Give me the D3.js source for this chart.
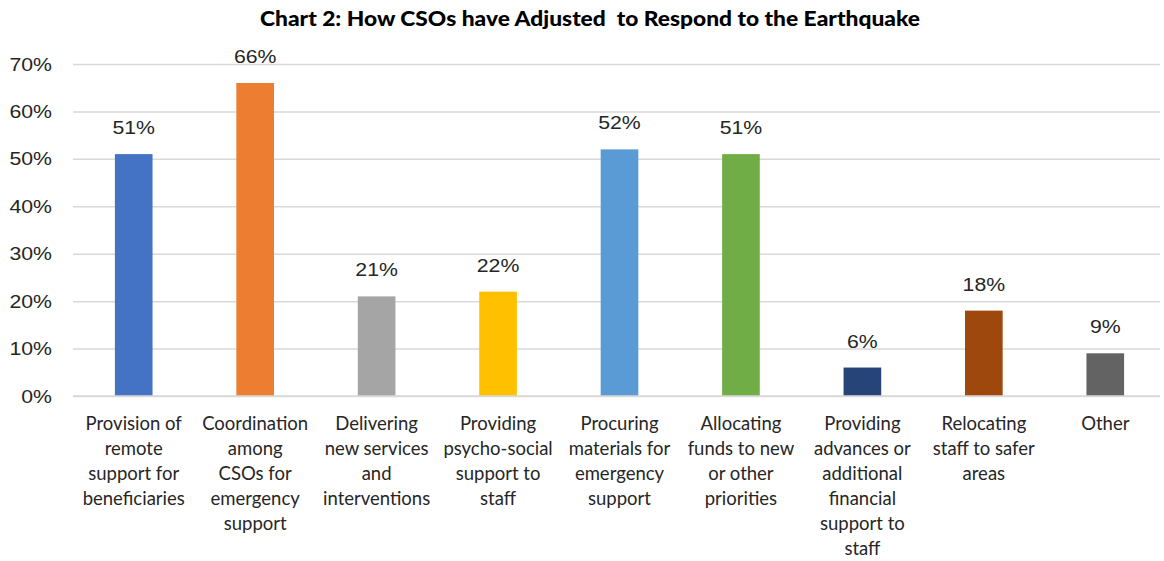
<!DOCTYPE html>
<html>
<head>
<meta charset="utf-8">
<script src="https://cdn.jsdelivr.net/npm/d3@7"></script>
<style>
  html, body { margin: 0; padding: 0; background: #fff; }
  svg { display: block; }
</style>
</head>
<body>
<svg id="chart" width="1164" height="561"></svg>
<script>
// Survey responses: share of CSOs reporting each adjustment
const categories = [
  "Provision of remote support for beneficiaries",
  "Coordination among CSOs for emergency support",
  "Delivering new services and interventions",
  "Providing psycho-social support to staff",
  "Procuring materials for emergency support",
  "Allocating funds to new or other priorities",
  "Providing advances or additional financial support to staff",
  "Relocating staff to safer areas",
  "Other"
];
// Wrapped label lines for the category axis
const categoryLines = [
  ["Provision of", "remote", "support for", "beneficiaries"],
  ["Coordination", "among", "CSOs for", "emergency", "support"],
  ["Delivering", "new services", "and", "interventions"],
  ["Providing", "psycho-social", "support to", "staff"],
  ["Procuring", "materials for", "emergency", "support"],
  ["Allocating", "funds to new", "or other", "priorities"],
  ["Providing", "advances or", "additional", "financial", "support to", "staff"],
  ["Relocating", "staff to safer", "areas"],
  ["Other"]
];
const values = [0.51, 0.66, 0.21, 0.22, 0.52, 0.51, 0.06, 0.18, 0.09];
const barColors = ["#4472C4", "#ED7D31", "#A5A5A5", "#FFC000", "#5B9BD5", "#70AD47", "#264478", "#9E480E", "#636363"];
const yTicks = [0, 0.1, 0.2, 0.3, 0.4, 0.5, 0.6, 0.7];
const title = "Chart 2: How CSOs have Adjusted\u00A0 to Respond to the Earthquake";

const svg = d3.select("#chart");
const plot = { left: 73, right: 1166, top: 64, bottom: 396, gridEnd: 1160 };
const pct = d3.format(".0%");
const numFont = "'Liberation Sans', Arial, sans-serif";
const textFont = "Lato, 'Open Sans', sans-serif";
const stretch = 1.12;   // slightly wide numerals

const x = d3.scaleBand()
  .domain(categories)
  .range([plot.left, plot.right])
  .paddingInner(0.69)
  .paddingOuter(0.345);

const y = d3.scaleLinear()
  .domain([0, 0.7])
  .range([plot.bottom, plot.top]);

// Title
svg.append("text")
  .attr("x", 590)
  .attr("y", 26)
  .attr("text-anchor", "middle")
  .attr("textLength", 660)
  .attr("lengthAdjust", "spacingAndGlyphs")
  .style("font-family", textFont)
  .style("font-weight", "900")
  .style("font-size", "20.5px")
  .style("fill", "#000")
  .text(title);

// Horizontal gridlines and percent tick labels
const yAxis = d3.axisLeft(y)
  .tickValues(yTicks)
  .tickFormat(pct)
  .tickSize(-(plot.gridEnd - plot.left))
  .tickPadding(21);

const yg = svg.append("g")
  .attr("transform", `translate(${plot.left},0)`)
  .call(yAxis);
yg.select(".domain").remove();
yg.selectAll(".tick line")
  .attr("stroke", "#d9d9d9")
  .attr("stroke-width", 1.5);
yg.selectAll(".tick text")
  .attr("x", 0)
  .attr("transform", `translate(-21,0) scale(${stretch},1)`)
  .style("font-family", numFont)
  .style("font-size", "19px")
  .style("fill", "#262626");

// Bars
svg.append("g")
  .selectAll("rect")
  .data(values)
  .join("rect")
  .attr("x", (d, i) => x(categories[i]))
  .attr("width", x.bandwidth())
  .attr("y", d => y(d))
  .attr("height", d => y(0) - y(d))
  .attr("fill", (d, i) => barColors[i]);

// Baseline over the bars
svg.append("line")
  .attr("x1", plot.left)
  .attr("x2", plot.gridEnd)
  .attr("y1", y(0))
  .attr("y2", y(0))
  .attr("stroke", "#d9d9d9")
  .attr("stroke-width", 1.5);

// Value labels above bars
svg.append("g")
  .selectAll("text")
  .data(values)
  .join("text")
  .attr("transform", (d, i) =>
    `translate(${x(categories[i]) + x.bandwidth() / 2},${y(d) - 20}) scale(${stretch},1)`)
  .attr("text-anchor", "middle")
  .style("font-family", numFont)
  .style("font-size", "19px")
  .style("fill", "#262626")
  .text(d => pct(d));

// Category labels, wrapped onto several lines
const labels = svg.append("g")
  .selectAll("text")
  .data(categoryLines)
  .join("text")
  .attr("x", (d, i) => x(categories[i]) + x.bandwidth() / 2)
  .attr("y", 430)
  .attr("text-anchor", "middle")
  .style("font-family", textFont)
  .style("font-size", "18.5px")
  .style("fill", "#262626");

labels.selectAll("tspan")
  .data((d, i) => d.map(line => ({ line, cx: x(categories[i]) + x.bandwidth() / 2 })))
  .join("tspan")
  .attr("x", d => d.cx)
  .attr("dy", (d, j) => j === 0 ? 0 : 25)
  .text(d => d.line);
</script>
</body>
</html>
